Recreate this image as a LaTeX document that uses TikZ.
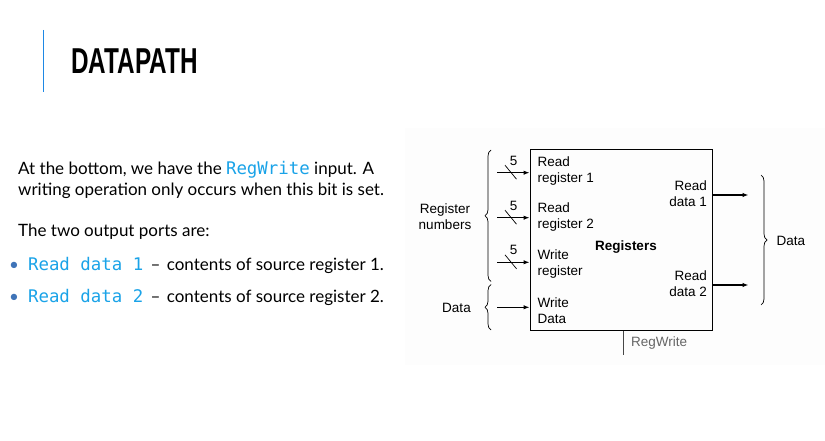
\documentclass[tikz,border=0pt]{standalone}
\usepackage{fontspec}
\setmainfont{Lato}
\setsansfont{Liberation Sans}
\setmonofont{DejaVu Sans Mono}
\usetikzlibrary{arrows.meta,decorations.pathreplacing}
\definecolor{codeblue}{HTML}{1AA3E8}
\definecolor{bulletblue}{HTML}{3F74B8}
\definecolor{titleline}{HTML}{1E88E5}
\definecolor{diagbg}{HTML}{FDFDFD}
\definecolor{greytxt}{HTML}{666666}
\newcommand{\codetxt}[1]{{\ttfamily\fontsize{17.4}{18}\selectfont\color{codeblue}#1}}
\begin{document}
\begin{tikzpicture}[x=1pt,y=-1pt,
  body/.style={anchor=base west,inner sep=0pt,font=\fontsize{17}{19}\selectfont},
  dlabel/.style={inner sep=0pt,font=\sffamily\fontsize{13.5}{16}\selectfont,align=left},
  arr/.style={line width=1.1pt,-{Latex[length=6pt,width=4.5pt]}},
  brc/.style={decorate,decoration={brace,amplitude=#1},line width=0.7pt},
  regbox/.style={draw,line width=1pt,minimum width=182.7pt,minimum height=180pt,inner sep=0pt}]
\useasboundingbox (0,0) rectangle (825,441);
\fill[white] (0,0) rectangle (825,441);
\fill[diagbg] (405,128) rectangle (825,365);
% title
\draw[titleline,line width=1.8pt] (43.5,30) -- (43.5,92);
\node[anchor=base west,inner sep=0pt] (title) at (71,74)
  {\scalebox{0.675}[1]{\sffamily\bfseries\fontsize{36}{36}\selectfont DATAPATH}};
% left text
\node[body] (t1) at (18,175) {At the bottom, we have the \codetxt{RegWrite} input. A};
\node[body] (t2) at (18,196) {writing operation only occurs when this bit is set.};
\node[body] (t3) at (18,236) {The two output ports are:};
\node[body] (b1) at (9,270) {\textcolor{bulletblue}{\textbullet}\hspace{9pt}\codetxt{Read data 1}\hspace{3pt} --\hspace{2pt} contents of source register 1.};
\node[body] (b2) at (9,302) {\textcolor{bulletblue}{\textbullet}\hspace{9pt}\codetxt{Read data 2}\hspace{3pt} --\hspace{2pt} contents of source register 2.};
% register box
\node[regbox] (regs) at (621.35,240) {};
\node[dlabel,font=\sffamily\bfseries\fontsize{13.5}{16}\selectfont] (rname) at (626,247) {Registers};
% input labels
\node[dlabel,anchor=west] (l1) at (537.5,171.5) {Read\\register 1};
\node[dlabel,anchor=west] (l2) at (537.5,217) {Read\\register 2};
\node[dlabel,anchor=west] (l3) at (537.5,264.5) {Write\\register};
\node[dlabel,anchor=west] (l4) at (537.5,310.5) {Write\\Data};
% output labels
\node[dlabel,anchor=east,align=right] (o1) at (707,194) {Read\\data 1};
\node[dlabel,anchor=east,align=right] (o2) at (707,284) {Read\\data 2};
% input arrows
\coordinate (i1) at (497,172.7);
\coordinate (i2) at (497,217.7);
\coordinate (i3) at (497,262.3);
\coordinate (i4) at (497,307.3);
\draw[arr] (i1) -- (regs.west |- i1);
\draw[arr] (i2) -- (regs.west |- i2);
\draw[arr] (i3) -- (regs.west |- i3);
\draw[arr] (i4) -- (regs.west |- i4);
% bus slashes and widths
\foreach \y/\n in {172.7/s1,217.7/s2,262.3/s3}{
  \draw[line width=0.7pt] (505,\y-7.5) -- (516.5,\y+6.5);
  \node[dlabel,font=\sffamily\fontsize{13.5}{14}\selectfont] (\n) at (513.5,\y-12) {5};
}
% output arrows
\coordinate (q1) at (748.5,195);
\coordinate (q2) at (748.5,285);
\draw[arr] (regs.east |- q1) -- (q1);
\draw[arr] (regs.east |- q2) -- (q2);
% RegWrite
\coordinate (rw) at (623.3,355);
\draw[line width=0.8pt,greytxt!70!black] (regs.south -| rw) -- (rw);
\node[dlabel,anchor=west,text=greytxt] (rwl) at (631,343.5) {RegWrite};
% braces
\draw[brc=6pt] (491,281.5) -- (491,150);
\draw[brc=6pt] (491,330) -- (491,284.5);
\draw[brc=6pt] (761,175) -- (761,305);
\node[dlabel,align=center] (regnum) at (445,217) {Register\\numbers};
\node[dlabel] (dl) at (456.5,307.5) {Data};
\node[dlabel,anchor=west] (dr) at (776.5,240.5) {Data};
\end{tikzpicture}
\end{document}
